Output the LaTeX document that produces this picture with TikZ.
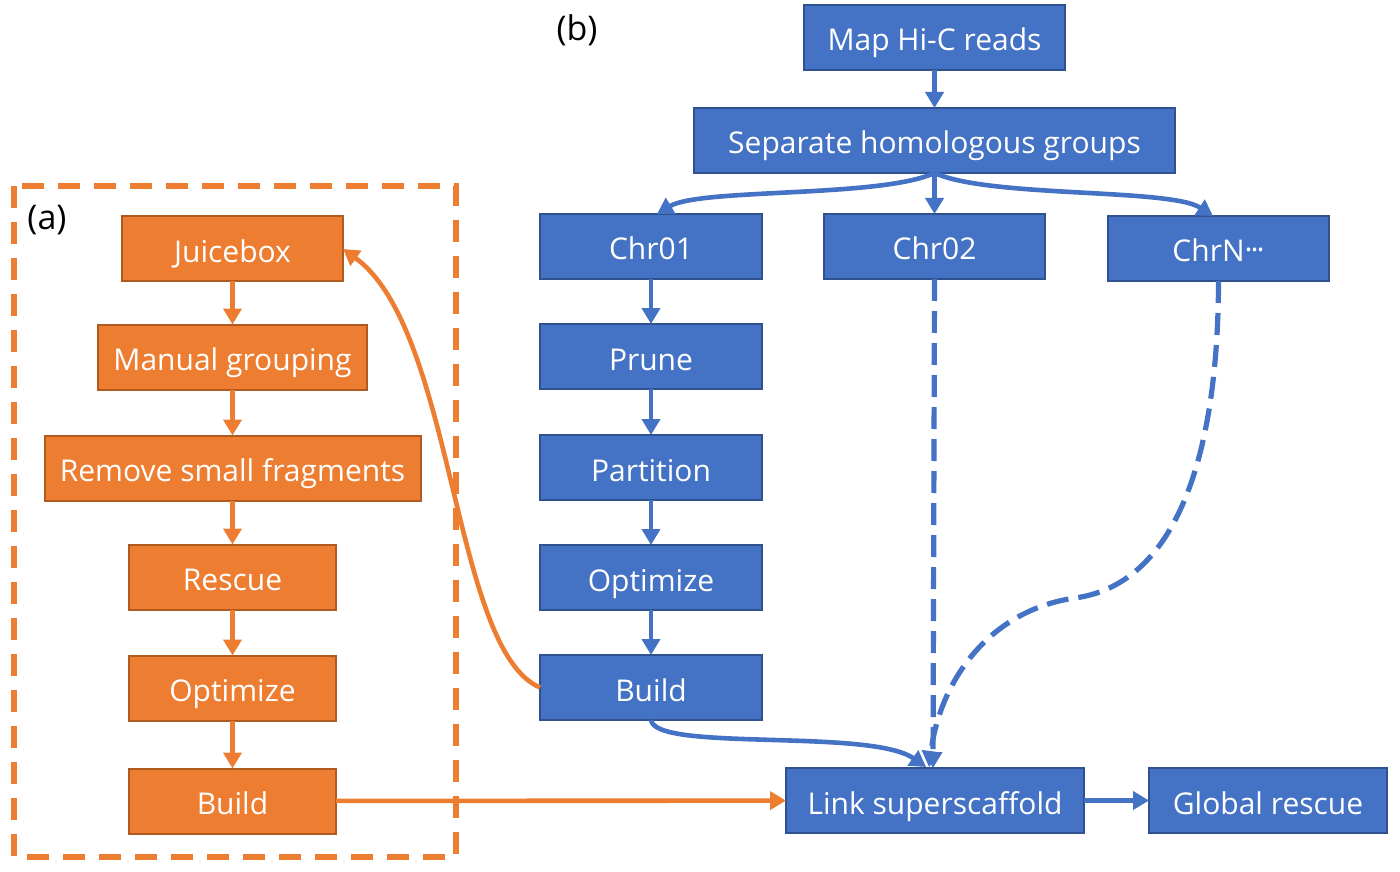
\documentclass[tikz,border=0pt]{standalone}
\usepackage{fontspec}
\setmainfont{Open Sans}
\usetikzlibrary{arrows.meta,positioning}

\definecolor{hicblue}{HTML}{4472C4}
\definecolor{hicblueline}{HTML}{2F528F}
\definecolor{juiceorange}{HTML}{ED7D31}
\definecolor{juiceline}{HTML}{AE5A21}

\begin{document}
\begin{tikzpicture}[
  x=0.5pt,
  y=-0.5pt,
  font=\fontsize{15}{18}\selectfont,
  flow box/.style={
    line width=1pt,
    minimum height=32.5pt,
    inner sep=0pt,
    outer sep=0pt,
    text height=13.5pt,
    text depth=0pt,
    text=white
  },
  blue box/.style={
    flow box,
    draw=hicblueline,
    fill=hicblue
  },
  orange box/.style={
    flow box,
    draw=juiceline,
    fill=juiceorange
  },
  panel label/.style={
    font=\fontsize{17}{20}\selectfont,
    text=black
  },
  blue arrow/.style={
    -{Triangle[length=8pt,width=9pt]},
    draw=hicblue,
    line width=2.3pt
  },
  blue dashed/.style={
    blue arrow,
    line width=2.6pt,
    dash pattern=on 11pt off 5pt
  },
  orange arrow/.style={
    -{Triangle[length=8pt,width=9pt]},
    draw=juiceorange,
    line width=2.3pt
  },
  panel frame/.style={
    draw=juiceorange,
    line width=2.6pt,
    dash pattern=on 11pt off 7pt
  }
]
\useasboundingbox (0,0) rectangle (1400,871);

% panel (a)
\draw[panel frame] (14,186) rectangle (456,857);
\node[panel label] (label-a) at (47,220) {(a)};

\node[orange box,minimum width=110.5pt] (juicebox) at (232.5,249) {Juicebox};
\node[orange box,minimum width=134.5pt,below=21.5pt of juicebox] (grouping) {Manual grouping};
\node[orange box,minimum width=188pt,below=23pt of grouping] (remove) {Remove small fragments};
\node[orange box,minimum width=103.5pt,below=22pt of remove] (rescue) {Rescue};
\node[orange box,minimum width=103.5pt,below=23pt of rescue] (optimize-a) {Optimize};
\node[orange box,minimum width=103.5pt,below=24pt of optimize-a] (build-a) {Build};

\draw[orange arrow] (juicebox) -- (grouping);
\draw[orange arrow] (grouping) -- (remove);
\draw[orange arrow] (remove) -- (rescue);
\draw[orange arrow] (rescue) -- (optimize-a);
\draw[orange arrow] (optimize-a) -- (build-a);

% panel (b)
\node[panel label] (label-b) at (577,30) {(b)};

\node[blue box,minimum width=130.5pt] (map) at (934.5,37.5) {Map Hi-C reads};
\node[blue box,minimum width=240.5pt,below=19pt of map] (separate) {Separate homologous groups};

\node[blue box,minimum width=111pt] (chr01) at (651,246.5) {Chr01};
\node[blue box,minimum width=110.5pt] (chr02) at (934.5,246.5) {Chr02};
\node[blue box,minimum width=110.5pt] (chrn) at (1218.5,248.5) {ChrN\kern0.5pt\raisebox{0.05em}{\kern-0.5pt·\kern-1pt·\kern-1pt·}};

\node[blue box,minimum width=111pt,below=22.5pt of chr01] (prune) {Prune};
\node[blue box,minimum width=111pt,below=23pt of prune] (partition) {Partition};
\node[blue box,minimum width=111pt,below=22.5pt of partition] (optimize-b) {Optimize};
\node[blue box,minimum width=111pt,below=22.5pt of optimize-b] (build-b) {Build};

\node[blue box,minimum width=149pt] (link) at (935,800.5) {Link superscaffold};
\node[blue box,minimum width=119pt,right=32.5pt of link] (global) {Global rescue};

\draw[blue arrow] (map) -- (separate);
\draw[blue arrow] (separate.south) .. controls (880,198) and (700,188) .. (657,214);
\draw[blue arrow] (separate.south) -- (chr02);
\draw[blue arrow] (separate.south) .. controls (990,198) and (1170,188) .. (1213,216);

\draw[blue arrow] (chr01) -- (prune);
\draw[blue arrow] (prune) -- (partition);
\draw[blue arrow] (partition) -- (optimize-b);
\draw[blue arrow] (optimize-b) -- (build-b);

\draw[blue arrow] (build-b.south) .. controls (655,752) and (870,728) .. (926,767);
\draw[blue dashed] (chr02.south) -- ([xshift=-1pt]link.north);
\draw[blue dashed] (chrn.south) .. controls (1218,470) and (1170,585) .. (1075,598)
  .. controls (990,610) and (940,680) .. (929,767);

\draw[orange arrow] (build-b.west) .. controls (452,650) and (455,330) .. (juicebox.east);
\draw[orange arrow] (build-a) -- (link);
\draw[blue arrow] (link) -- (global);

\end{tikzpicture}
\end{document}
